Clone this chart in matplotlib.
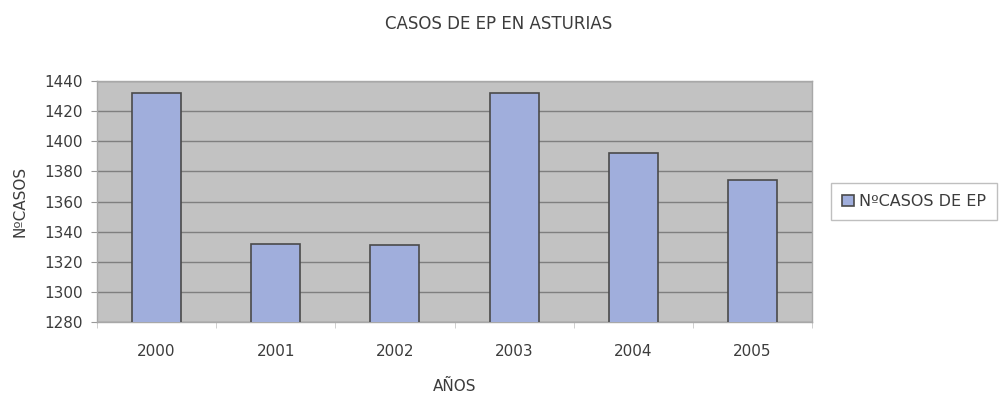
import matplotlib
matplotlib.use("Agg")
import matplotlib.pyplot as plt
import numpy as np

years = ["2000", "2001", "2002", "2003", "2004", "2005"]
cases = [1432, 1332, 1331, 1432, 1392, 1374]
y_ticks = [1280, 1300, 1320, 1340, 1360, 1380, 1400, 1420, 1440]

plt.rcParams["font.family"] = ["DejaVu Sans"]
text_color = "#3c3c3c"

fig = plt.figure(figsize=(10.04, 3.95), dpi=100)
ax = fig.add_axes([0.0966, 0.1848, 0.7122, 0.6101])
ax.set_facecolor("#c2c2c2")

x = np.arange(len(years))
bars = ax.bar(x, cases, width=0.41, bottom=0, color="#a0aedc",
              edgecolor="#4a4a4a", linewidth=1.2, label="NºCASOS DE EP",
              zorder=3)

ax.set_ylim(1280, 1440)
ax.set_xlim(-0.5, len(years) - 0.5)
ax.set_yticks(y_ticks)
ax.set_yticklabels([str(t) for t in y_ticks], fontsize=11, color=text_color)
ax.set_xticks(x)
ax.set_xticklabels(years, fontsize=11, color=text_color)
ax.tick_params(axis="x", length=0, pad=16)
ax.tick_params(axis="y", length=4, color="#999999", pad=6)
ax.set_xticks(np.arange(-0.5, len(years)), minor=True)
ax.tick_params(axis="x", which="minor", length=4, color="#c8c8c8")

ax.yaxis.grid(True, color="#7f7f7f", linewidth=1.0, zorder=1)
ax.set_axisbelow(True)
for side in ["top", "right", "left", "bottom"]:
    ax.spines[side].set_color("#a8a8a8")
    ax.spines[side].set_linewidth(1.0)

ax.set_xlabel("AÑOS", fontsize=11, color=text_color, labelpad=14)
ax.set_ylabel("NºCASOS", fontsize=11, color=text_color, labelpad=12)
fig.text(0.4965, 0.94, "CASOS DE EP EN ASTURIAS", ha="center", va="center",
         fontsize=12, color=text_color)

leg = fig.legend(handles=[bars], labels=["NºCASOS DE EP"],
                 loc="upper left", bbox_to_anchor=(0.828, 0.537),
                 fontsize=11.5, frameon=True, fancybox=False,
                 handlelength=0.75, handleheight=0.75, handletextpad=0.3,
                 borderpad=0.7, borderaxespad=0)
leg.get_frame().set_edgecolor("#b0b0b0")
leg.get_frame().set_linewidth(1.0)
for t in leg.get_texts():
    t.set_color(text_color)

fig.savefig("out.png", dpi=100)
